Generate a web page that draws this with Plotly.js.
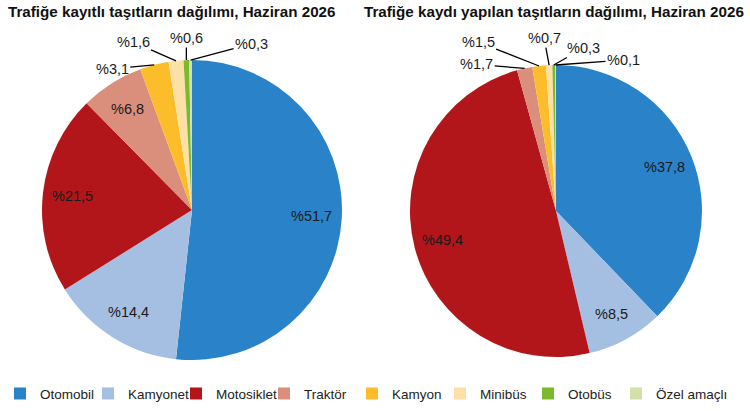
<!DOCTYPE html>
<html>
<head>
    <meta charset='utf-8'>
    <title>Trafiğe kayıtlı taşıtların dağılımı</title>
    <script src="https://cdn.plot.ly/plotly-3.0.1.min.js"></script>
    <style>
        html, body { margin: 0; padding: 0; background: #fff; }
        #chartDiv { width: 750px; height: 411px; }
    </style>
</head>
<body>
    <div id="chartDiv"></div>

    <script>
        const categories = ["Otomobil", "Kamyonet", "Motosiklet", "Traktör", "Kamyon", "Minibüs", "Otobüs", "Özel amaçlı"];
        const kayitliValues = [51.7, 14.4, 21.5, 6.8, 3.1, 1.6, 0.6, 0.3];
        const kaydiYapilanValues = [37.8, 8.5, 49.4, 1.7, 1.5, 0.7, 0.3, 0.1];
        const leftTitle = "Trafiğe kayıtlı taşıtların dağılımı, Haziran 2026";
        const rightTitle = "Trafiğe kaydı yapılan taşıtların dağılımı, Haziran 2026";

        const colors = ["#2a83c8", "#a5bfe3", "#b2161a", "#d98f7c", "#fbbd2a", "#fde0a6", "#7db92c", "#d3e1a9"];
        const W = 750, H = 411;
        const MB = 30;             // bottom margin, the legend lives below the plot area
        const PH = H - MB;         // plot area height
        const FONT = "Liberation Sans, Arial, sans-serif";
        const INSIDE_MIN = 5;      // slices smaller than this get an outside label
        const LABEL_RADIUS = 0.8;  // inside labels sit at this fraction of the radius

        // pixel geometry of each pie + label offsets for the small slices
        const pies = [
            { cx: 192, cy: 210, r: 150, titleX: 172, values: kayitliValues, title: leftTitle,
              offsets: { 4: [-42, 4], 5: [-43, -19], 6: [0, -22], 7: [61, -16] } },
            { cx: 556, cy: 211, r: 146, titleX: 554, values: kaydiYapilanValues, title: rightTitle,
              offsets: { 3: [-48, -4], 4: [-61, -24], 5: [-5, -27], 6: [30, -17], 7: [68, -5] } },
        ];

        const fmt = v => "%" + v.toFixed(1).replace(".", ",");
        const labelFont = { family: FONT, size: 14.5, color: "#1a1a1a" };
        const toX = px => px / W;
        const toY = py => 1 - py / PH;

        const traces = [];
        const annotations = [];

        pies.forEach((p, pi) => {
            const total = p.values.reduce((a, b) => a + b, 0);
            traces.push({
                type: "pie",
                labels: categories,
                values: p.values,
                textinfo: "none",
                sort: false,
                direction: "clockwise",
                rotation: 0,
                marker: { colors: colors, line: { width: 0 } },
                domain: {
                    x: [toX(p.cx - p.r), toX(p.cx + p.r)],
                    y: [toY(p.cy + p.r), toY(p.cy - p.r)],
                },
                showlegend: pi === 0,
                hoverinfo: "none",
            });

            // title above the pie
            annotations.push({
                xref: "paper", yref: "paper",
                x: toX(p.titleX), y: toY(12),
                xanchor: "center", yanchor: "middle",
                text: "<b>" + p.title + "</b>",
                showarrow: false,
                font: { family: FONT, size: 15.2, color: "#111" },
            });

            // value labels: inside for big slices, leader lines for the small ones
            let cum = 0;
            p.values.forEach((v, i) => {
                const mid = (cum + v / 2) / total;
                cum += v;
                const ang = 2 * Math.PI * mid;
                if (v >= INSIDE_MIN) {
                    annotations.push({
                        xref: "paper", yref: "paper",
                        x: toX(p.cx + LABEL_RADIUS * p.r * Math.sin(ang)),
                        y: toY(p.cy - LABEL_RADIUS * p.r * Math.cos(ang)),
                        xanchor: "center", yanchor: "middle",
                        text: fmt(v),
                        showarrow: false,
                        font: labelFont,
                    });
                    return;
                }
                const off = p.offsets[i] || [0, -25];
                annotations.push({
                    xref: "paper", yref: "paper",
                    x: toX(p.cx + p.r * Math.sin(ang)),
                    y: toY(p.cy - p.r * Math.cos(ang)),
                    text: fmt(v),
                    showarrow: true,
                    arrowhead: 0,
                    arrowwidth: 1.3,
                    arrowcolor: "#000",
                    ax: off[0], ay: off[1],
                    font: labelFont,
                });
            });
        });

        const layout = {
            width: W,
            height: H,
            margin: { l: 0, r: 0, t: 0, b: MB, autoexpand: false },
            paper_bgcolor: "#fff",
            font: { family: FONT, size: 14, color: "#222" },
            showlegend: true,
            legend: {
                orientation: "h",
                x: 0, xanchor: "left",
                y: -(391 - PH) / PH, yanchor: "middle",
                entrywidth: 43,
                entrywidthmode: "pixels",
                traceorder: "normal",
                bgcolor: "rgba(0,0,0,0)",
                // invisible spacer title: widens the legend box so the last entry is not clipped
                title: {
                    text: "\u2014".repeat(183),
                    side: "top",
                    font: { size: 4, color: "rgba(0,0,0,0)" },
                },
                font: { family: FONT, size: 13.5, color: "#222" },
            },
            annotations: annotations,
        };

        Plotly.newPlot("chartDiv", traces, layout, { displayModeBar: false, staticPlot: true });
    </script>
</body>
</html>
